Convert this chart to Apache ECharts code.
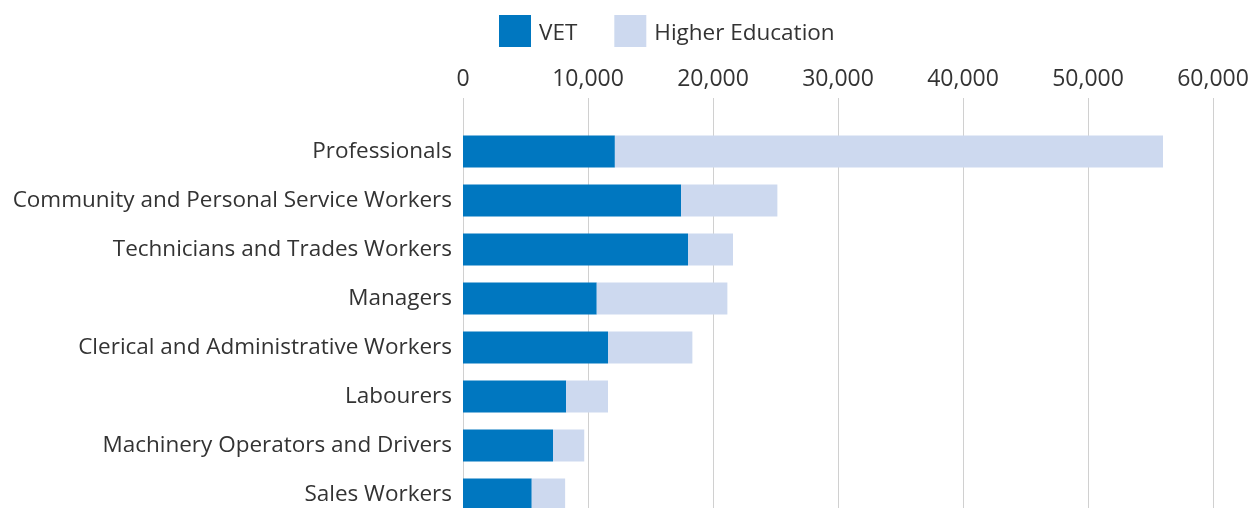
<!DOCTYPE html>
<html><head><meta charset="utf-8">
<script src="https://cdn.jsdelivr.net/npm/echarts@6/dist/echarts.min.js"></script>
<style>html,body{margin:0;padding:0;background:#fff;overflow:hidden}#c{width:1254px;height:520px}</style>
</head><body><div id="c"></div>
<script>
const categories = ["Professionals","Community and Personal Service Workers","Technicians and Trades Workers","Managers","Clerical and Administrative Workers","Labourers","Machinery Operators and Drivers","Sales Workers"];
const vet = [12150, 17450, 18000, 10700, 11600, 8250, 7200, 5500];
const higherEd = [43850, 7700, 3600, 10450, 6750, 3350, 2500, 2670];
const seriesNames = ["VET", "Higher Education"];
const FONT = "Open Sans";
const chart = echarts.init(document.getElementById('c'));
chart.setOption({
  animation: false,
  textStyle: {fontFamily: FONT},
  legend: {
    left: 499, top: 15, padding: 0, itemWidth: 32, itemHeight: 32, itemGap: 37,
    icon: 'rect',
    formatter: '{s|}{a|{name}}',
    textStyle: {
      fontFamily: FONT, fontSize: 22.5, color: '#333', padding: [0,0,0,3],
      rich: {
        s: {width: 0, height: 28, lineHeight: 28},
        a: {fontFamily: FONT, fontSize: 22.5, color: '#333', lineHeight: 28, verticalAlign: 'bottom'}
      }
    },
    data: seriesNames
  },
  grid: {left: 463, right: 41, top: 127, height: 392, containLabel: false},
  xAxis: {
    type: 'value', position: 'top', min: 0, max: 60000, interval: 10000,
    axisLine: {show: false},
    axisTick: {show: true, length: 29, lineStyle: {color: '#d0d0d0'}},
    axisLabel: {fontFamily: FONT, fontSize: 23, color: '#333', margin: 36},
    splitLine: {show: true, lineStyle: {color: '#d0d0d0'}}
  },
  yAxis: {
    type: 'category', inverse: true, data: categories,
    axisLine: {show: true, lineStyle: {color: '#d0d0d0'}},
    axisTick: {show: false},
    axisLabel: {fontFamily: FONT, fontSize: 22.5, color: '#333', margin: 11}
  },
  series: [
    {name: seriesNames[0], type: 'bar', stack: 't', data: vet, barWidth: 32, itemStyle: {color: '#0077c0'}},
    {name: seriesNames[1], type: 'bar', stack: 't', data: higherEd, barWidth: 32, itemStyle: {color: '#cdd9ef'}}
  ]
});
</script></body></html>
